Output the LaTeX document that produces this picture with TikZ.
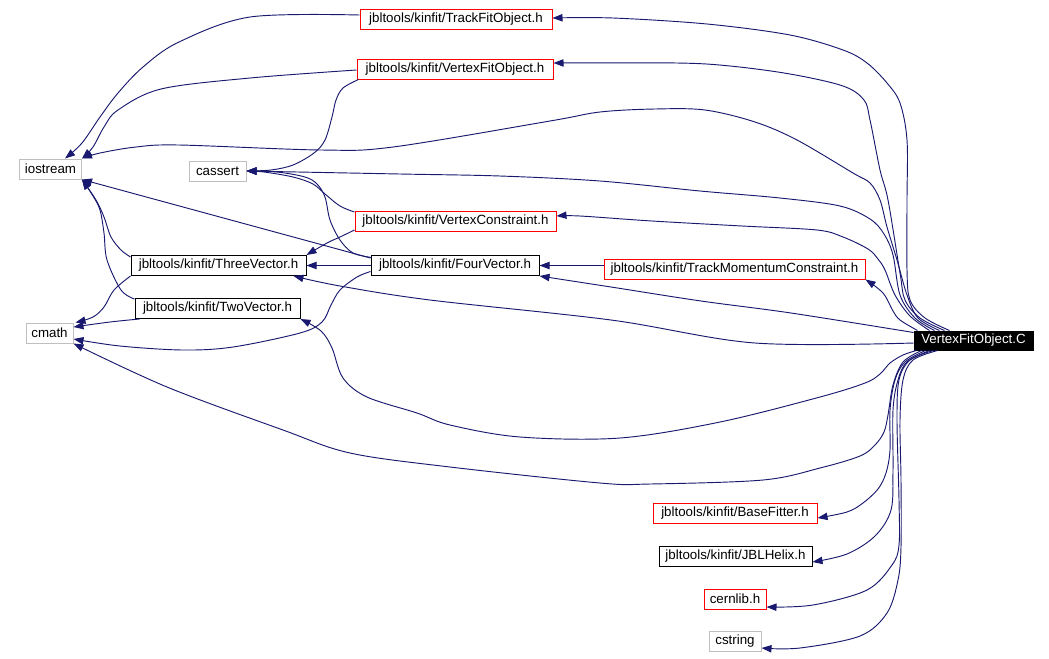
\documentclass[tikz,border=0pt]{standalone}
\usepackage{fontspec}
\setmainfont{Liberation Sans}
\usetikzlibrary{arrows.meta,calc}
\definecolor{edgec}{HTML}{191970}
\definecolor{grayb}{HTML}{BFBFBF}
\begin{document}
\begin{tikzpicture}[x=0.75pt,y=-0.75pt,
  box/.style={draw, line width=0.75pt, inner sep=0pt, minimum height=15pt, font=\fontsize{10}{12}\selectfont, anchor=center},
  redbox/.style={box, draw=red},
  blkbox/.style={box, draw=black},
  graybox/.style={box, draw=grayb},
  mainbox/.style={box, draw=black, fill=black, text=white},
  edge/.style={draw=edgec, line width=0.7pt, -{Triangle[length=7.5pt,width=5.5pt]}},
  sm/.style={smooth, tension=0.55}]
\useasboundingbox (0,0) rectangle (1049,658);
\fill[white] (0,0) rectangle (1049,658);

% nodes
\node[redbox, minimum width=144pt] (TFO) at (456,19.5) {jbltools/kinfit/TrackFitObject.h};
\node[redbox, minimum width=147pt] (VFOh) at (455,69) {jbltools/kinfit/VertexFitObject.h};
\node[graybox, minimum width=46.5pt] (iostream) at (50.5,169) {iostream};
\node[graybox, minimum width=42.75pt] (cassert) at (217.5,171) {cassert};
\node[redbox, minimum width=150.75pt] (VC) at (455.5,221) {jbltools/kinfit/VertexConstraint.h};
\node[blkbox, minimum width=131.25pt] (ThreeV) at (218.5,265.5) {jbltools/kinfit/ThreeVector.h};
\node[blkbox, minimum width=126pt] (FourV) at (455,265.5) {jbltools/kinfit/FourVector.h};
\node[redbox, minimum width=195.75pt] (TMC) at (734.5,269) {jbltools/kinfit/TrackMomentumConstraint.h};
\node[blkbox, minimum width=123.75pt] (TwoV) at (217.5,308.5) {jbltools/kinfit/TwoVector.h};
\node[graybox, minimum width=35.25pt] (cmath) at (49.5,333) {cmath};
\node[mainbox, minimum width=89.25pt, minimum height=14.25pt] (C) at (973.5,340.5) {VertexFitObject.C};
\node[redbox, minimum width=123pt] (BF) at (735,513) {jbltools/kinfit/BaseFitter.h};
\node[blkbox, minimum width=114.75pt] (JBL) at (735.5,556.5) {jbltools/kinfit/JBLHelix.h};
\node[redbox, minimum width=46.5pt] (cern) at (735,599) {cernlib.h};
\node[graybox, minimum width=39pt] (cstr) at (735,641) {cstring};

% helper coordinates on VertexFitObject.C
\coordinate (c1) at ($(C.north west)+(36,0)$);
\coordinate (c2) at ($(C.north west)+(31,0)$);
\coordinate (c3) at ($(C.north west)+(26,0)$);
\coordinate (c4) at ($(C.north west)+(21,0)$);
\coordinate (c5) at ($(C.north west)+(16,0)$);
\coordinate (c6) at ($(C.north west)+(4,0)$);
\coordinate (c7) at ($(C.west)+(0,-8)$);
\coordinate (c8) at ($(C.west)+(0,2.5)$);
\coordinate (c9) at ($(C.south west)+(3,0)$);
\coordinate (c10) at ($(C.south west)+(8,0)$);
\coordinate (c11) at ($(C.south west)+(12,0)$);
\coordinate (c12) at ($(C.south west)+(16,0)$);
\coordinate (c13) at ($(C.south west)+(20,0)$);
\coordinate (c14) at ($(C.south west)+(24,0)$);
% targets
\coordinate (t1) at ($(TFO.east)+(0,-1.5)$);
\coordinate (t2) at ($(VFOh.east)+(0,-6)$);
\coordinate (t5) at ($(VC.east)+(0,-5)$);
\coordinate (t8) at ($(ThreeV.south east)+(-13,0)$);
\coordinate (t11) at ($(BF.east)+(0,5)$);
\coordinate (t12) at ($(JBL.east)+(0,5.5)$);
\coordinate (t13) at ($(cern.east)+(0,8)$);
\coordinate (t14) at ($(cstr.east)+(0,7)$);
\coordinate (ioN) at ($(iostream.north)+(14.5,0)$);
\coordinate (cmU) at ($(cmath.north east)+(2,0)$);
\coordinate (cmE1) at ($(cmath.east)+(0,-6)$);
\coordinate (cmE2) at ($(cmath.east)+(0,6)$);
\coordinate (sTFO) at ($(TFO.west)+(0,-4.5)$);
\coordinate (sVFO1) at ($(VFOh.west)+(0,1)$);
\coordinate (sVFO2) at ($(VFOh.south west)+(2,0)$);
\coordinate (sVC1) at ($(VC.west)+(0,-9)$);
\coordinate (sVC2) at ($(VC.west)+(0,9)$);
\coordinate (sFV1) at ($(FourV.north west)+(1,2.5)$);
\coordinate (sFV2) at ($(FourV.north west)+(0,3)$);
\coordinate (sFV3) at ($(FourV.west)+(0,6)$);
\coordinate (sTV1) at ($(ThreeV.north west)+(0,2)$);
\coordinate (sTw1) at ($(TwoV.north west)+(0,1)$);
\coordinate (sTw2) at ($(TwoV.south west)+(5,0)$);
\coordinate (sTMC) at (TMC.west |- FourV.east);

% edges from VertexFitObject.C
\draw[edge] plot[sm] coordinates {(c1) (925,318) (910,300) (907,270) (907,200) (907,140) (900,103) (887,83) (867,63) (843,50) (790,35) (707,24) (613,18) (t1)};
\draw[edge] plot[sm] coordinates {(c2) (920,318) (905,300) (900,273) (888,200) (880,170) (870,120) (864,100) (843,86) (790,74) (730,66) (677,63) (t2)};
\draw[edge] plot[sm] coordinates {(c3) (918,318) (907,295) (897,260) (887,227) (880,200) (870,183) (853,173) (797,140) (755,122) (705,110) (655,109) (600,112) (550,121) (393,147) (321,150) (179,145) (136,147) (100,153) (iostream.north east)};
\draw[edge] plot[sm] coordinates {(c4) (915,318) (900,295) (893,255) (884,234) (870,219) (840,206) (780,198) (700,191) (600,181) (500,176) (400,174) (cassert.east)};
\draw[edge] plot[sm] coordinates {(c5) (910,316) (895,295) (885,270) (878,259) (868,249) (843,237) (817,230) (742,226) (652,221) (580,216) (t5)};
\draw[edge] plot[sm] coordinates {(c6) (900,320) (893,311) (883,293) (TMC.south east)};
\draw[edge] plot[sm] coordinates {(c7) (791,313) (701,301) (611,287) (FourV.south east)};
\draw[edge] plot[sm] coordinates {(c8) (755,343) (611,320) (430,300) (340,286) (t8)};
\draw[edge] plot[sm] coordinates {(c9) (903,355) (890,363) (880,374) (865,383) (820,397) (720,422) (620,438) (520,437) (450,425) (417,413) (367,397) (343,378) (332,348) (321,331) (TwoV.south east)};
\draw[edge] plot[sm] coordinates {(c10) (903,362) (893,385) (888,415) (884,432) (875,445) (860,456) (820,468) (763,480) (650,484) (600,483) (450,467) (350,453) (283,430) (167,387) (cmath.south east)};
\draw[edge] plot[sm] coordinates {(c11) (905,362) (895,380) (890,410) (890,450) (886,473) (878,489) (863,503) (847,512) (t11)};
\draw[edge] plot[sm] coordinates {(c12) (907,362) (898,380) (893,410) (893,470) (891,510) (875,536) (847,554) (t12)};
\draw[edge] plot[sm] coordinates {(c13) (910,360) (899,380) (897,420) (899,500) (899,545) (892,565) (867,590) (813,605) (t13)};
\draw[edge] plot[sm] coordinates {(c14) (913,360) (903,380) (900,420) (901,480) (901,547) (898,580) (887,613) (860,636) (800,648) (t14)};

% other edges
\draw[edge] plot[sm] coordinates {(sTFO) (250,17) (179,42) (143,67) (118,93) (100,117) (82,143) (ioN)};
\draw[edge] plot[sm] coordinates {(sVFO1) (250,78) (161,89) (118,110) (104,127) (93,147) (iostream.north east)};
\draw[edge] plot[sm] coordinates {(sVFO2) (343,88) (336,100) (332,117) (325,140) (314,153) (293,165) (271,170) (cassert.east)};
\draw[edge] plot[sm] coordinates {(sVC1) (340,206) (325,194) (313,184) (293,177) (264,172) (cassert.east)};
\draw[edge] plot[sm] coordinates {(sVC2) (340,237) (327,243) (ThreeV.north east)};
\draw[edge] plot[sm] coordinates {(sFV1) (353,253) (340,240) (330,220) (325,197) (317,184) (305,177) (277,172) (cassert.east)};
\draw[edge] (sFV2) -- (iostream.south east);
\draw[edge] (FourV.west) -- (ThreeV.east);
\draw[edge] plot[sm] coordinates {(sFV3) (357,277) (340,290) (331,305) (322,322) (300,333) (233,347) (183,350) (120,346) (cmE2)};
\draw[edge] (sTMC) -- (FourV.east);
\draw[edge] plot[sm] coordinates {(sTV1) (121,250) (111,237) (104,217) (96,200) (iostream.south east)};
\draw[edge] plot[sm] coordinates {(ThreeV.south west) (114,290) (104,307) (93,317) (cmU)};
\draw[edge] plot[sm] coordinates {(sTw1) (121,290) (107,260) (104,233) (100,210) (93,196) (iostream.south east)};
\draw[edge] plot[sm] coordinates {(sTw2) (110,322) (cmE1)};
\end{tikzpicture}
\end{document}
